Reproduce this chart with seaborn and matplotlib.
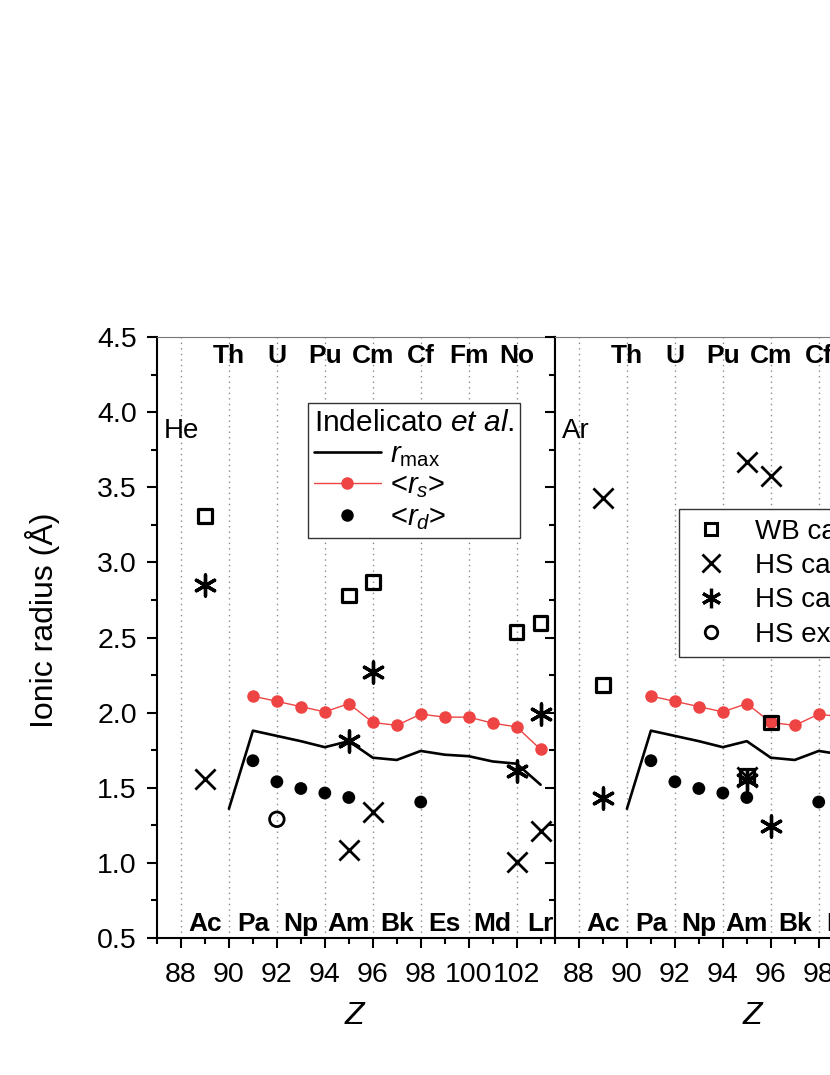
import numpy as np
import pandas as pd
import matplotlib
matplotlib.use("Agg")
import matplotlib.pyplot as plt
import seaborn as sns
from matplotlib.ticker import MultipleLocator
from matplotlib.lines import Line2D

# ---- Indelicato et al. (igual nos dois paineis) ----
z_rmax = [90, 91, 92, 93, 94, 95, 96, 97, 98, 99, 100, 101, 102, 103]
r_max = [1.36, 1.88, 1.845, 1.81, 1.77, 1.81, 1.70, 1.685, 1.745, 1.72, 1.71, 1.675, 1.66, 1.52]
z_rs = [91, 92, 93, 94, 95, 96, 97, 98, 99, 100, 101, 102, 103]
r_s = [2.11, 2.075, 2.04, 2.005, 2.06, 1.935, 1.915, 1.99, 1.97, 1.97, 1.93, 1.905, 1.755]
z_rd = [91, 92, 93, 94, 95, 98]
r_d = [1.68, 1.54, 1.495, 1.465, 1.435, 1.405]

# ---- He ----
he_wb_z = [89, 95, 96, 102, 103]
he_wb = [3.31, 2.78, 2.87, 2.535, 2.595]
he_x_z = [89, 95, 96, 102, 103]
he_x = [1.56, 1.085, 1.34, 1.005, 1.21]
he_ast_z = [89, 95, 96, 102, 103]
he_ast = [2.85, 1.81, 2.27, 1.61, 1.99]
he_exp_z = [92]
he_exp = [1.29]

# ---- Ar ----
ar_wb_z = [89, 95, 96]
ar_wb = [2.185, 1.58, 1.935]
ar_x_z = [89, 95, 95, 96]
ar_x = [3.43, 3.67, 1.57, 3.575]
ar_ast_z = [89, 95, 96]
ar_ast = [1.435, 1.55, 1.245]

top_el = ["Th", "U", "Pu", "Cm", "Cf", "Fm", "No"]
top_z = [90, 92, 94, 96, 98, 100, 102]
bot_el = ["Ac", "Pa", "Np", "Am", "Bk", "Es", "Md", "Lr"]
bot_z = [89, 91, 93, 95, 97, 99, 101, 103]

sns.set_style("ticks")
plt.rcParams['font.family'] = ['Liberation Sans', 'DejaVu Sans']
plt.rcParams['mathtext.fontset'] = 'custom'
plt.rcParams['mathtext.rm'] = 'Liberation Sans'
plt.rcParams['mathtext.it'] = 'Liberation Sans:italic'
plt.rcParams['mathtext.bf'] = 'Liberation Sans:bold'
for k in ['text.color', 'axes.labelcolor', 'xtick.color', 'ytick.color']:
    plt.rcParams[k] = 'black'

RED = '#EE4444'
AST = (6, 2, 0)

fig = plt.figure(figsize=(8.3, 10.75), dpi=100)
W, H = 830, 1075
ax_he = fig.add_axes([157 / W, 1 - 938 / H, 398 / W, 601 / H])
ax_ar = fig.add_axes([555 / W, 1 - 938 / H, 398 / W, 601 / H])


def painel(ax, nome, wb_z, wb, x_z, x, ast_z, ast, exp_z=None, exp=None, zlim=104):
    ax.grid(axis='x', which='major', ls=(0, (1, 3)), color='#8a8a8a', lw=1.0)
    sns.lineplot(x=z_rmax, y=r_max, color='black', lw=1.9, ax=ax)
    sns.lineplot(x=z_rs, y=r_s, color=RED, lw=1.0, marker='o', ms=9, mec='none', ax=ax)
    sns.scatterplot(x=z_rd, y=r_d, color='black', s=85, edgecolor='none', ax=ax, zorder=3)
    sns.scatterplot(x=wb_z, y=wb, marker='s', s=95, facecolors='none', edgecolor='black',
                    linewidth=2.3, ax=ax, zorder=4)
    sns.scatterplot(x=x_z, y=x, marker='x', s=210, color='black', linewidth=2.0, ax=ax, zorder=4)
    sns.scatterplot(x=ast_z, y=ast, marker=AST, s=230, color='black', linewidth=2.4, ax=ax, zorder=4)
    if exp_z is not None:
        sns.scatterplot(x=exp_z, y=exp, marker='o', s=110, facecolors='none', edgecolor='black',
                        linewidth=2.0, ax=ax, zorder=4)

    ax.set_xlim(87, 103.6)
    ax.set_ylim(0.5, 4.5)
    ax.xaxis.set_major_locator(MultipleLocator(2))
    ax.xaxis.set_minor_locator(MultipleLocator(1))
    ax.yaxis.set_major_locator(MultipleLocator(0.5))
    ax.yaxis.set_minor_locator(MultipleLocator(0.25))
    ax.tick_params(which='major', direction='out', length=7.5, width=1.5, labelsize=20.5, pad=7)
    ax.tick_params(which='minor', direction='out', length=4.5, width=1.5)
    ax.tick_params(axis='x', pad=10)
    for s in ['left', 'bottom', 'right']:
        ax.spines[s].set_linewidth(1.5)
        ax.spines[s].set_color('black')
    ax.spines['top'].set_linewidth(0.8)
    ax.spines['top'].set_color('#777777')
    ax.set_xlabel('$Z$', fontsize=23, labelpad=9)

    for el, z in zip(top_el, top_z):
        if z <= zlim:
            ax.text(z, 4.33, el, ha='center', va='baseline', fontsize=19, fontweight='bold')
    for el, z in zip(bot_el, bot_z):
        if z <= zlim:
            ax.text(z, 0.545, el, ha='center', va='baseline', fontsize=19, fontweight='bold')
    ax.text(87.3, 3.83, nome, ha='left', va='baseline', fontsize=20)


painel(ax_he, 'He', he_wb_z, he_wb, he_x_z, he_x, he_ast_z, he_ast, he_exp_z, he_exp)
painel(ax_ar, 'Ar', ar_wb_z, ar_wb, ar_x_z, ar_x, ar_ast_z, ar_ast, zlim=99)

ax_he.set_ylabel('Ionic radius (Å)', fontsize=23)
ax_he.yaxis.set_label_coords(-0.244, 0.529)
ax_ar.set_ylabel('')
ax_ar.tick_params(axis='y', labelleft=False)

# ---- legenda Indelicato ----
h1 = [Line2D([], [], color='black', lw=1.9),
      Line2D([], [], color=RED, lw=1.0, marker='o', ms=9, mec='none'),
      Line2D([], [], color='black', lw=0, marker='o', ms=9, mec='none')]
lab1 = [r'$r_{\rm max}$', r'<$r_s$>', r'<$r_d$>']
leg1 = ax_he.legend(h1, lab1, title=r'Indelicato $\it{et\ al}$.', loc='upper left',
                    bbox_to_anchor=(0.379, 0.890), borderaxespad=0, fontsize=21,
                    title_fontsize=21.5, frameon=True, fancybox=False, edgecolor='#333333',
                    framealpha=1, handlelength=2.3, handletextpad=0.3, labelspacing=0.1,
                    borderpad=0.2, alignment='left')
leg1.get_frame().set_linewidth(1.0)

# ---- legenda Ar ----
h2 = [Line2D([], [], color='black', lw=0, marker='s', ms=9, mfc='none', mew=2.2),
      Line2D([], [], color='black', lw=0, marker='x', ms=13, mew=2.0),
      Line2D([], [], color='black', lw=0, marker=AST, ms=14, mew=2.3),
      Line2D([], [], color='black', lw=0, marker='o', ms=9, mfc='none', mew=2.0)]
lab2 = ['WB calc.', 'HS calc. (I)', 'HS calc. (II)', 'HS exp.']
leg2 = ax_ar.legend(h2, lab2, loc='upper left', bbox_to_anchor=(0.3116, 0.714),
                    borderaxespad=0, fontsize=20, frameon=True, fancybox=False,
                    edgecolor='#333333', framealpha=1, handlelength=1.6,
                    handletextpad=0.8, labelspacing=0.3, borderpad=0.35)
leg2.get_frame().set_linewidth(1.0)

fig.savefig('out.png', dpi=100)
